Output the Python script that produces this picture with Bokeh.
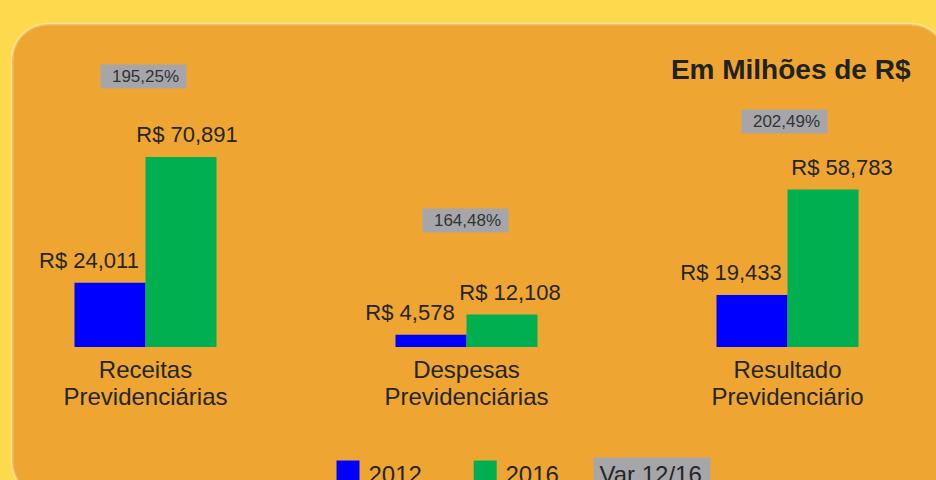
from bokeh.plotting import figure
from bokeh.models import Range1d, BoxAnnotation, Label, GlobalInlineStyleSheet
from bokeh.core.properties import value
from bokeh.embed import file_html
from bokeh.resources import INLINE

# ---------------- data ----------------
categories = ["Receitas Previdenciárias", "Despesas Previdenciárias", "Resultado Previdenciário"]
years = ["2012", "2016"]
values_2012 = [24011, 4578, 19433]
values_2016 = [70891, 12108, 58783]
var_labels = ["195,25%", "164,48%", "202,49%"]
var_legend = "Var 12/16"
title_text = "Em Milhões de R$"

# ---------------- layout / style ----------------
W, H = 936, 480
X0, UX = 145.0, 321.0          # px of first group centre, px per group
BASE, PPU = 346.5, 0.00268     # px of baseline, px per unit
BAR_PX = 71
FONT = "Liberation Sans"
YELLOW = "#FFD94D"
ORANGE = "#EEA532"
BLUE = "#0000FF"
GREEN = "#00B050"
GRAY = "#A6A6AA"
TXT = "#262626"
BL = 0.42                      # baseline compensation (fraction of font size)

FS_VAL, FS_VAR, FS_CAT, FS_TITLE, FS_LEG = 22, 17, 24, 28, 24

lbl_dx_2012 = [-21, -21, -21]
lbl_dx_2016 = [6, 8, 19]
var_box_py = [76, 220, 121]
var_box_dx = [-2, -1, -3]


def px_x(px):
    return (px - X0) / UX


def px_y(py):
    return (BASE - py) / PPU


def base_y(py, fs):
    """data y for a text whose alphabetic baseline should sit at pixel row py"""
    return px_y(py - BL * fs)


idx = list(range(len(categories)))
bw = BAR_PX / UX
x12 = [i - bw / 2 for i in idx]
x16 = [i + bw / 2 for i in idx]

p = figure(width=W, height=H,
           x_range=Range1d(px_x(0), px_x(W)), y_range=Range1d(px_y(H), px_y(0)),
           x_axis_type=None, y_axis_type=None,
           output_backend="svg", toolbar_location=None, min_border=0,
           background_fill_color=YELLOW, border_fill_color=YELLOW,
           outline_line_color=None)
p.grid.visible = False
p.stylesheets = [GlobalInlineStyleSheet(
    css="html, body { margin: 0; padding: 0; background: %s; overflow: hidden; }" % YELLOW)]

# rounded panel
panel = BoxAnnotation(left=px_x(11.5), right=px_x(946), top=px_y(23.5), bottom=px_y(497),
                      fill_color=ORANGE, fill_alpha=1.0, line_color="white", line_width=3,
                      border_radius=36, level="underlay")
p.add_layout(panel)

# bars
p.vbar(x=x12, top=values_2012, bottom=0, width=bw, fill_color=BLUE, line_color=None)
p.vbar(x=x16, top=values_2016, bottom=0, width=bw, fill_color=GREEN, line_color=None)

# value labels
gap = (13 + BL * FS_VAL) / PPU
p.text(x=[x + d / UX for x, d in zip(x12, lbl_dx_2012)], y=[v + gap for v in values_2012],
       text=["R$ {:,}".format(v) for v in values_2012],
       text_align="center", text_baseline="alphabetic", text_color=TXT,
       text_font=value(FONT), text_font_size="%dpx" % FS_VAL)
p.text(x=[x + d / UX for x, d in zip(x16, lbl_dx_2016)], y=[v + gap for v in values_2016],
       text=["R$ {:,}".format(v) for v in values_2016],
       text_align="center", text_baseline="alphabetic", text_color=TXT,
       text_font=value(FONT), text_font_size="%dpx" % FS_VAL)

# variation boxes
vx = [i + d / UX for i, d in zip(idx, var_box_dx)]
p.rect(x=vx, y=[px_y(py) for py in var_box_py], width=86, height=24,
       width_units="screen", height_units="screen", fill_color=GRAY, line_color=None)
p.text(x=[x + 2 / UX for x in vx], y=[base_y(py + 7.5, FS_VAR) for py in var_box_py],
       text=var_labels, text_align="center", text_baseline="alphabetic", text_color="#333333",
       text_font=value(FONT), text_font_size="%dpx" % FS_VAR)

# category labels (two lines)
line1 = [c.split(" ")[0] for c in categories]
line2 = [c.split(" ")[1] for c in categories]
p.text(x=idx, y=[base_y(379.5, FS_CAT)] * len(idx), text=line1, text_align="center",
       text_baseline="alphabetic", text_color=TXT, text_font=value(FONT),
       text_font_size="%dpx" % FS_CAT)
p.text(x=idx, y=[base_y(406.5, FS_CAT)] * len(idx), text=line2, text_align="center",
       text_baseline="alphabetic", text_color=TXT, text_font=value(FONT),
       text_font_size="%dpx" % FS_CAT)

# title
p.add_layout(Label(x=px_x(910), y=base_y(81, FS_TITLE), text=title_text, text_align="right",
                   text_baseline="alphabetic", text_color="#222222", text_font=FONT,
                   text_font_size="%dpx" % FS_TITLE, text_font_style="bold"))

# legend (custom)
p.rect(x=[px_x(347.5), px_x(484.7)], y=[px_y(471.5)] * 2, width=23, height=23,
       width_units="screen", height_units="screen", fill_color=[BLUE, GREEN], line_color=None)
p.text(x=[px_x(368), px_x(505)], y=[base_y(484, FS_LEG)] * 2, text=years, text_align="left",
       text_baseline="alphabetic", text_color=TXT, text_font=value(FONT),
       text_font_size="%dpx" % FS_LEG)
p.rect(x=[px_x(651.5)], y=[px_y(472)], width=117, height=30,
       width_units="screen", height_units="screen", fill_color=GRAY, line_color=None)
p.text(x=[px_x(599)], y=[base_y(484, FS_LEG)], text=[var_legend], text_align="left",
       text_baseline="alphabetic", text_color=TXT, text_font=value(FONT),
       text_font_size="%dpx" % FS_LEG)

open("out.html", "w").write(file_html(p, INLINE))
